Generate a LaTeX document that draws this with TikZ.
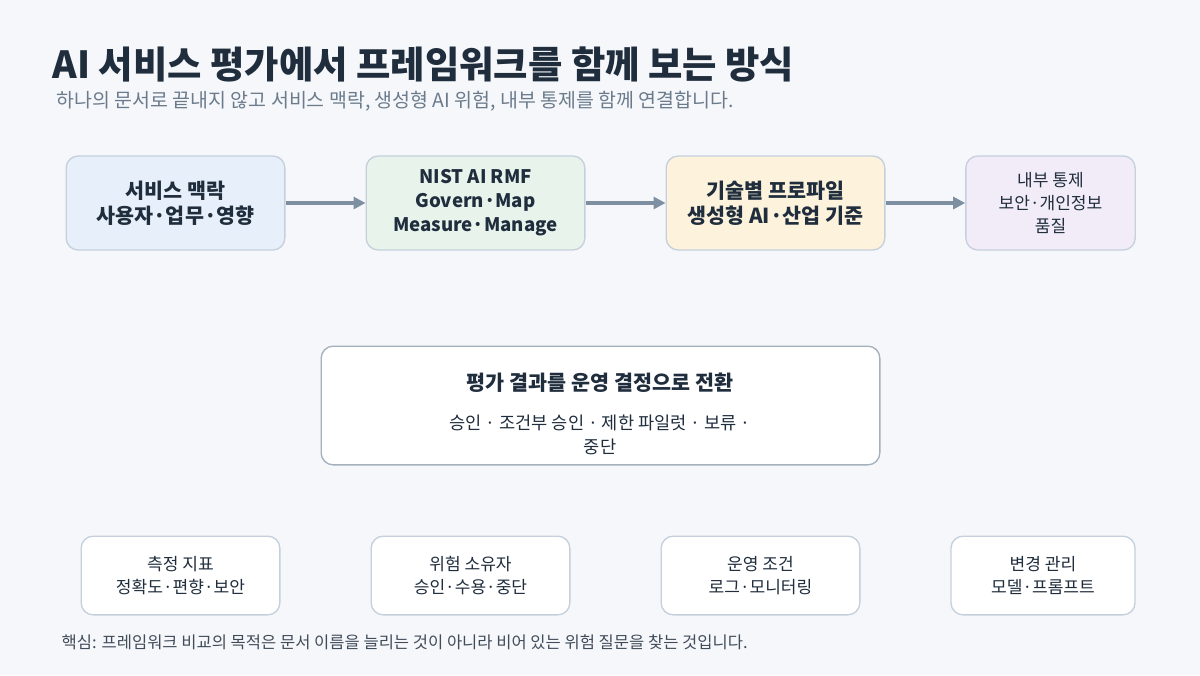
\documentclass[tikz,border=0pt]{standalone}
\usepackage{fontspec}
\setmainfont{Noto Sans CJK KR}
\usetikzlibrary{arrows.meta}
\definecolor{bg}{HTML}{F5F7FA}
\definecolor{ink}{HTML}{1F2D3D}
\definecolor{sub}{HTML}{6B7B8C}
\definecolor{bd}{HTML}{C5D0DC}
\definecolor{arr}{HTML}{7D8FA0}
\definecolor{fa}{HTML}{E7F0FA}
\definecolor{fb}{HTML}{E8F3EC}
\definecolor{fc}{HTML}{FDF3DC}
\definecolor{fd}{HTML}{F2ECF8}
\tikzset{
 box/.style={draw=bd,line width=1pt,rounded corners=9pt,align=center,text=ink,inner sep=0pt},
 top/.style={box,minimum height=70.5pt,font=\fontsize{15.5}{19}\selectfont\bfseries},
 low/.style={box,fill=white,minimum height=59pt,minimum width=149pt,font=\fontsize{12.8}{17.5}\selectfont},
 ar/.style={draw=arr,line width=2.5pt,-{Triangle[length=9pt,width=9pt]}}
}
\begin{document}
\begin{tikzpicture}[x=0.75pt,y=-0.75pt]
\fill[bg] (0,0) rectangle (1200,675);
\node[anchor=west,text=ink,font=\fontsize{28}{32}\selectfont\bfseries] (t) at (48,64) {AI 서비스 평가에서 프레임워크를 함께 보는 방식};
\node[anchor=west,text=sub,font=\fontsize{14.6}{17}\selectfont] (s) at (52,101) {하나의 문서로 끝내지 않고 서비스 맥락, 생성형 AI 위험, 내부 통제를 함께 연결합니다.};
\node[top,fill=fa,minimum width=164pt] (a) at (175.5,203) {서비스 맥락\\사용자·업무·영향};
\node[top,fill=fb,minimum width=164pt,font=\fontsize{14}{18}\selectfont\bfseries] (b) at (475.5,203) {NIST AI RMF\\Govern·Map\\Measure·Manage};
\node[top,fill=fc,minimum width=164pt] (c) at (775.5,203) {기술별 프로파일\\생성형 AI·산업 기준};
\node[top,fill=fd,minimum width=127pt,font=\fontsize{12.8}{17.5}\selectfont] (d) at (1050.5,203) {내부 통제\\보안·개인정보\\품질};
\draw[ar] (a) -- (b);
\draw[ar] (b) -- (c);
\draw[ar] (c) -- (d);
\node[box,fill=white,draw=arr!70,minimum width=419pt,minimum height=89pt] (m) at (600.5,405.5) {};
\node[text=ink,font=\fontsize{15.5}{18}\selectfont\bfseries] (mt) at (600,383) {평가 결과를 운영 결정으로 전환};
\node[text=ink,align=center,font=\fontsize{13.2}{18}\selectfont] (ms) at (600,435) {승인 · 조건부 승인 · 제한 파일럿 · 보류 ·\\중단};
\node[low] (e) at (180.5,575.5) {측정 지표\\정확도·편향·보안};
\node[low] (f) at (470.5,575.5) {위험 소유자\\승인·수용·중단};
\node[low] (g) at (760.5,575.5) {운영 조건\\로그·모니터링};
\node[low,minimum width=138pt] (h) at (1043,575.5) {변경 관리\\모델·프롬프트};
\node[anchor=west,text=ink!85,font=\fontsize{12.4}{14}\selectfont] (n) at (57,642) {핵심: 프레임워크 비교의 목적은 문서 이름을 늘리는 것이 아니라 비어 있는 위험 질문을 찾는 것입니다.};
\end{tikzpicture}
\end{document}
